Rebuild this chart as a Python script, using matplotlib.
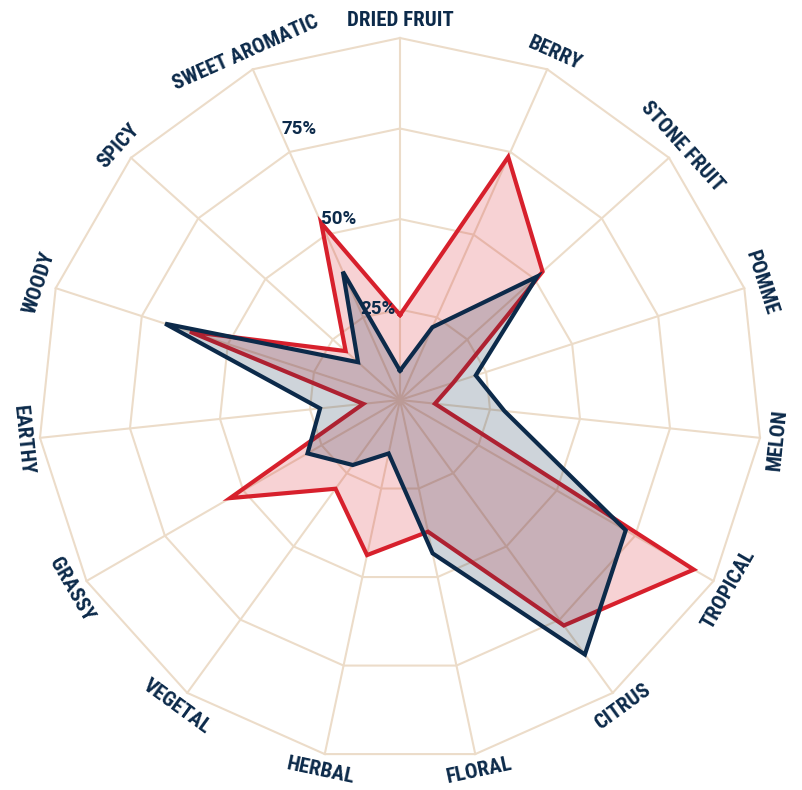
import numpy as np
import matplotlib
matplotlib.use('Agg')
import matplotlib.pyplot as plt

# aroma categories, clockwise from the top
categories = ['DRIED FRUIT', 'BERRY', 'STONE FRUIT', 'POMME', 'MELON',
              'TROPICAL', 'CITRUS', 'FLORAL', 'HERBAL', 'VEGETAL',
              'GRASSY', 'EARTHY', 'WOODY', 'SPICY', 'SWEET AROMATIC']

# percentages
red_values = [23.5, 73.5, 53, 15.5, 9.7, 93.7, 77, 37.2, 43.8, 30.3,
              54.2, 10.2, 61, 20.2, 53.5]
navy_values = [8.1, 22, 51, 22, 29, 72, 86.9, 43.3, 15.1, 22.2,
               29.5, 22.2, 68.2, 15.6, 38.8]

ring_levels = [25, 50, 75, 100]
ring_labels = ['25%', '50%', '75%']

RED = '#d7202c'
NAVY = '#0c2a4a'
GRID = '#ecdcc9'
LABEL_FONT = ['Roboto Condensed', 'Barlow Condensed', 'DejaVu Sans']
TICK_FONT = ['Roboto', 'Liberation Sans', 'DejaVu Sans']

n = len(categories)
theta = np.arange(n) * 2 * np.pi / n  # clockwise from top


def to_xy(values):
    v = np.asarray(values, dtype=float)
    x = v * np.sin(theta)
    y = v * np.cos(theta)
    return np.append(x, x[0]), np.append(y, y[0])


fig = plt.figure(figsize=(8.02, 7.90), dpi=100)
ax = fig.add_axes([0, 0, 1, 1])
px = 3.62  # pixels per percent
ax.set_xlim(-400 / px, 402 / px)
ax.set_ylim(-390 / px, 400 / px)
ax.axis('off')

# polygon grid
for lvl in ring_levels:
    gx, gy = to_xy([lvl] * n)
    ax.plot(gx, gy, color=GRID, lw=1.5, zorder=1)
for t in theta:
    ax.plot([0, 100 * np.sin(t)], [0, 100 * np.cos(t)], color=GRID, lw=1.5, zorder=1)

# series
rx, ry = to_xy(red_values)
ax.fill(rx, ry, color=RED, alpha=0.2, lw=0, zorder=2)
ax.plot(rx, ry, color=RED, lw=3, solid_joinstyle='miter', zorder=3)

nx, ny = to_xy(navy_values)
ax.fill(nx, ny, color=NAVY, alpha=0.2, lw=0, zorder=4)
ax.plot(nx, ny, color=NAVY, lw=3, solid_joinstyle='miter', zorder=5)

# ring labels
for lvl, lab in zip(ring_levels, ring_labels):
    ax.text(5 - 0.44 * lvl, lvl, lab, ha='center', va='center',
            fontsize=13.5, fontweight='bold', color=NAVY,
            family=TICK_FONT, zorder=6)

# category labels, tangential
for t, name in zip(theta, categories):
    deg = np.degrees(t)
    rot = -deg
    if 90 < deg < 270:
        rot = 180 - deg
    r = 104.8
    ax.text(r * np.sin(t), r * np.cos(t), name, rotation=rot,
            rotation_mode='anchor', ha='center', va='center',
            fontsize=15, fontweight='bold', color=NAVY, family=LABEL_FONT)

fig.savefig('out.png', dpi=100)
